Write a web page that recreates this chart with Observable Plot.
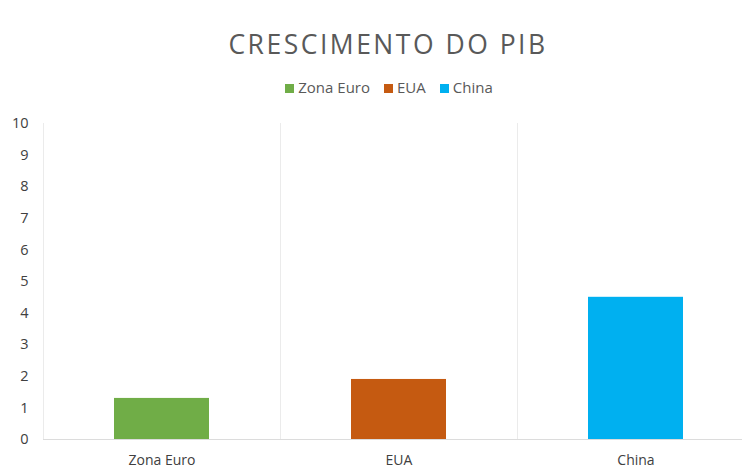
<!DOCTYPE html>
<html>
<head>
<meta charset="utf-8">
<script src="https://cdn.jsdelivr.net/npm/d3@7"></script>
<script src="https://cdn.jsdelivr.net/npm/@observablehq/plot@0.6"></script>
<style>
  html, body { margin: 0; padding: 0; background: #fff; }
  #wrap { position: relative; width: 742px; height: 468px; overflow: hidden; font-family: "Open Sans", sans-serif; }
  #title { position: absolute; left: 0; width: 776px; top: 26px; text-align: center; font-size: 26.5px; letter-spacing: 2.5px; color: #595959; line-height: 36px; }
  #legend { position: absolute; left: 0; width: 778px; top: 77px; text-align: center; font-size: 15px; color: #595959; line-height: 20px; }
  #legend span.item { display: inline-block; margin: 0 7px; }
  #legend span.sw { display: inline-block; width: 9px; height: 9px; margin-right: 4px; vertical-align: 0px; }
  #plot { position: absolute; left: 0; top: 108px; }
</style>
</head>
<body>
<div id="wrap">
  <div id="title">CRESCIMENTO DO PIB</div>
  <div id="legend"></div>
  <div id="plot"></div>
</div>
<script>
const categories = ["Zona Euro", "EUA", "China"];
const values = [1.3, 1.9, 4.5];
const colors = ["#70AD47", "#C55A11", "#00B0F0"];
const yTicks = [0, 1, 2, 3, 4, 5, 6, 7, 8, 9, 10];

const data = categories.map((c, i) => ({category: c, value: values[i]}));

const legend = document.getElementById("legend");
categories.forEach((c, i) => {
  const item = document.createElement("span");
  item.className = "item";
  const sw = document.createElement("span");
  sw.className = "sw";
  sw.style.background = colors[i];
  item.appendChild(sw);
  item.appendChild(document.createTextNode(c));
  legend.appendChild(item);
});

const step = 237;
const chart = Plot.plot({
  width: 742,
  height: 360,
  marginTop: 15,
  marginBottom: 29,
  marginLeft: 43,
  marginRight: 0,
  style: {fontFamily: "'Open Sans', sans-serif", fontSize: "14px", color: "#404040", background: "#fff"},
  x: {domain: categories, range: [43, 43 + step * 3], paddingInner: 0.6, paddingOuter: 0.3},
  y: {domain: [0, 10]},
  color: {domain: categories, range: colors},
  marks: [
    Plot.ruleX(categories, {x: d => d, dx: -step / 2, y1: 0, y2: 10, stroke: "#ebebeb", strokeWidth: 1}),
    Plot.barY(data, {x: "category", y: "value", fill: "category"}),
    Plot.ruleY([0], {stroke: "#dcdcdc", strokeWidth: 1}),
    Plot.axisY({ticks: yTicks, tickSize: 0, tickPadding: 15, tickFormat: d => String(d), label: null, fill: "#404040", fontSize: 14.5}),
    Plot.axisX({tickSize: 0, tickPadding: 16, label: null, fill: "#404040"})
  ]
});
document.getElementById("plot").appendChild(chart);
</script>
</body>
</html>
